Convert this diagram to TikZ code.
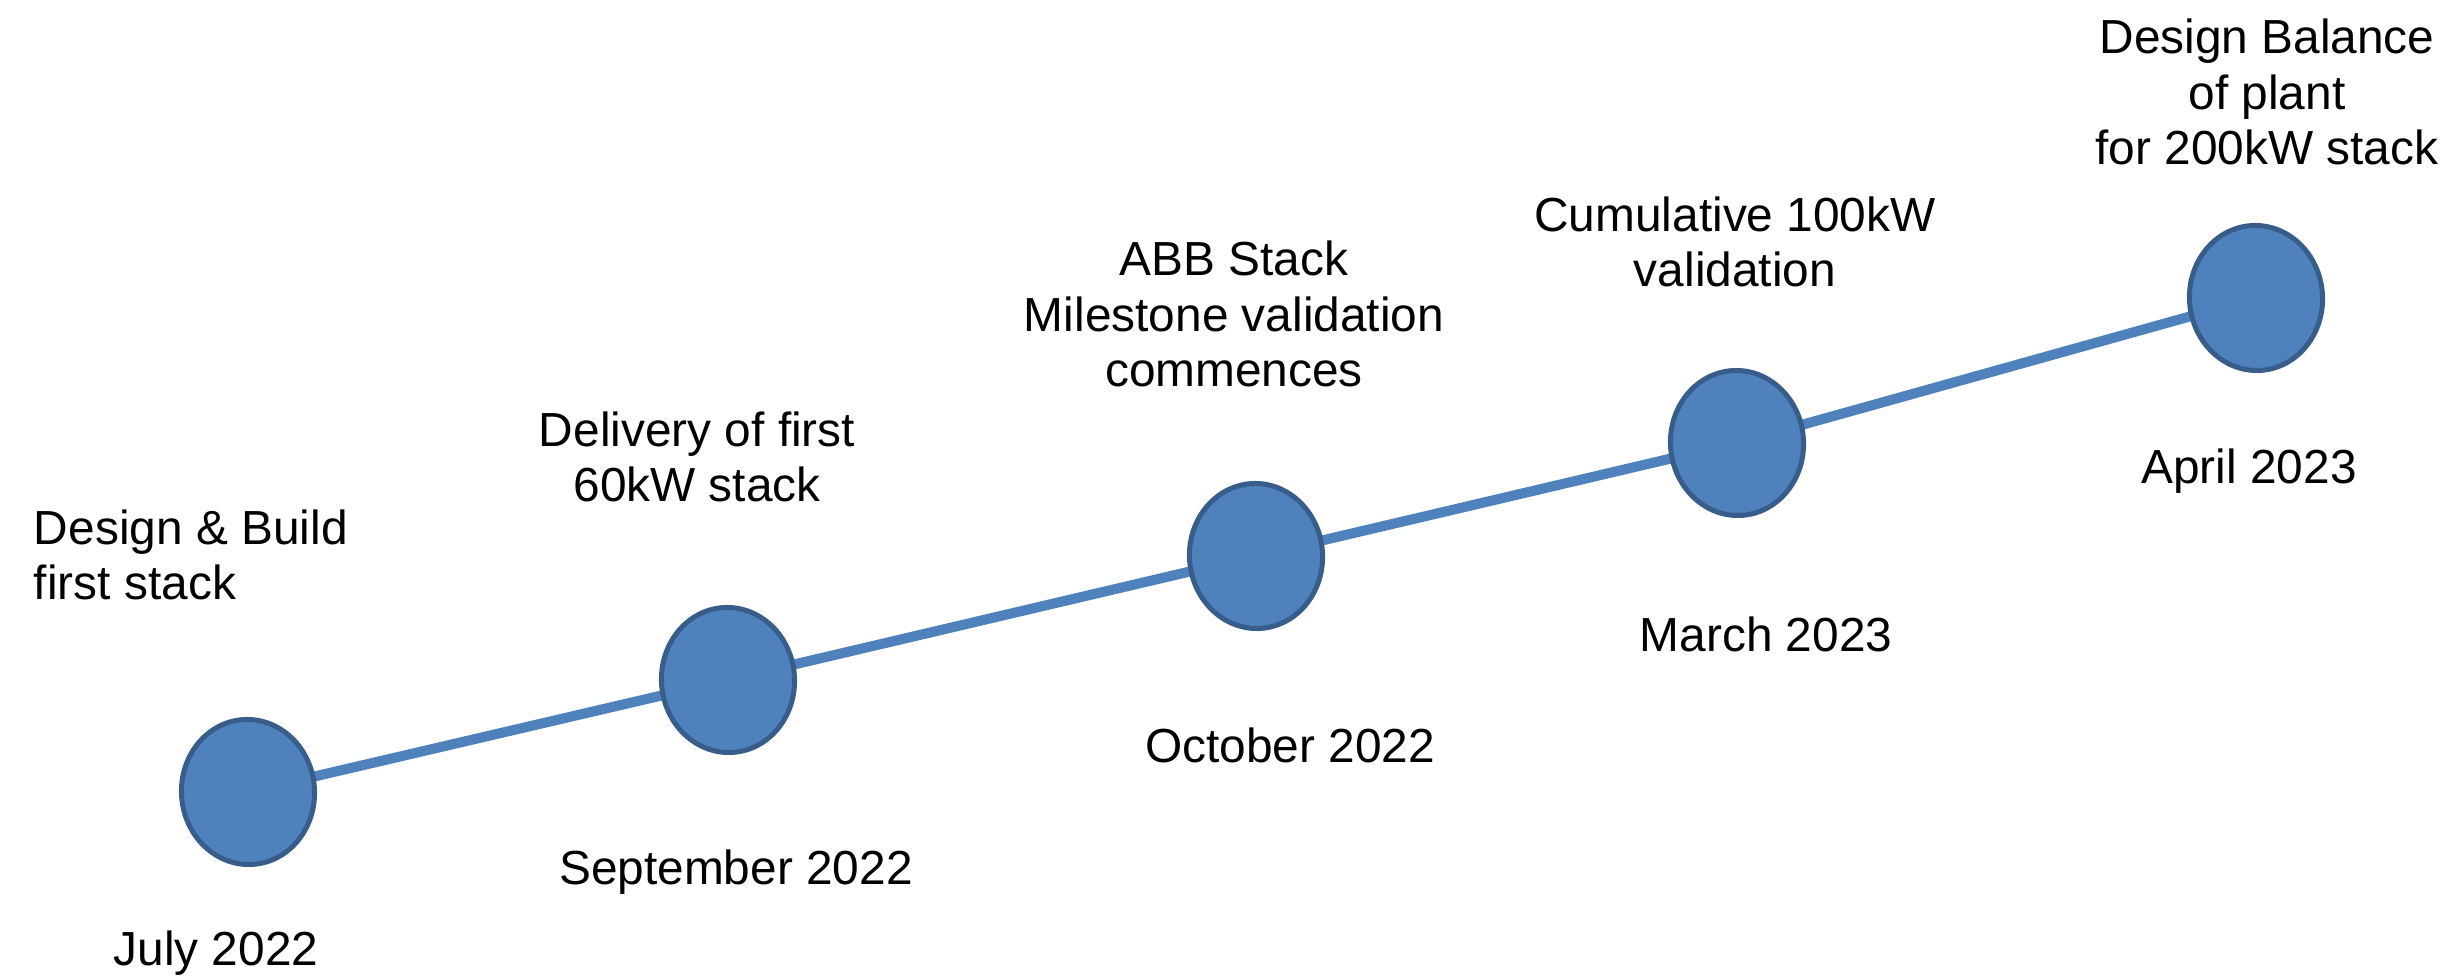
\documentclass[tikz,border=0pt]{standalone}
\usepackage{fontspec}
\setmainfont{Liberation Sans}
\usetikzlibrary{shapes.geometric,backgrounds}
\definecolor{msfill}{HTML}{4F81BD}
\definecolor{msedge}{HTML}{385D8A}
\tikzset{
  milestone/.style={ellipse, draw=msedge, fill=msfill, line width=0.05cm,
    minimum width=1.33cm, minimum height=1.45cm, inner sep=0pt, rotate=4},
  timeline/.style={draw=msfill, line width=0.1cm},
  lbl/.style={inner sep=0pt, outer sep=0pt, align=center, anchor=base,
    font=\fontsize{13.6pt}{15.9pt}\selectfont},
}
\begin{document}
\begin{tikzpicture}[x=0.01cm, y=-0.01cm]
\useasboundingbox (0,0) rectangle (2445,980);

% milestones along the timeline
\node[milestone] (m1) at (248,792) {};
\node[milestone] (m2) at (728,680) {};
\node[milestone] (m3) at (1256,556) {};
\node[milestone] (m4) at (1737,443) {};
\node[milestone] (m5) at (2256,298) {};

\begin{scope}[on background layer]
  \draw[timeline] (m1.center) -- (m2.center);
  \draw[timeline] (m2.center) -- (m3.center);
  \draw[timeline] (m3.center) -- (m4.center);
  \draw[timeline] (m4.center) -- (m5.center);
\end{scope}

% descriptions (positioned by the baseline of their last line)
\node[lbl, align=left, anchor=base west] (d1) at (34,600) {Design \& Build\\first stack};
\node[lbl] (d2) at (697,502) {Delivery of first\\60kW stack};
\node[lbl] (d3) at (1234,387) {ABB Stack\\Milestone validation\\commences};
\node[lbl] (d4) at (1735,287) {Cumulative 100kW\\validation};
\node[lbl] (d5) at (2267,165) {Design Balance\\of plant\\for 200kW stack};

% dates
\node[lbl] (t1) at (216,966) {July 2022};
\node[lbl] (t2) at (736,885) {September 2022};
\node[lbl] (t3) at (1290,763) {October 2022};
\node[lbl] (t4) at (1766,652) {March 2023};
\node[lbl] (t5) at (2249,484) {April 2023};
\end{tikzpicture}
\end{document}
